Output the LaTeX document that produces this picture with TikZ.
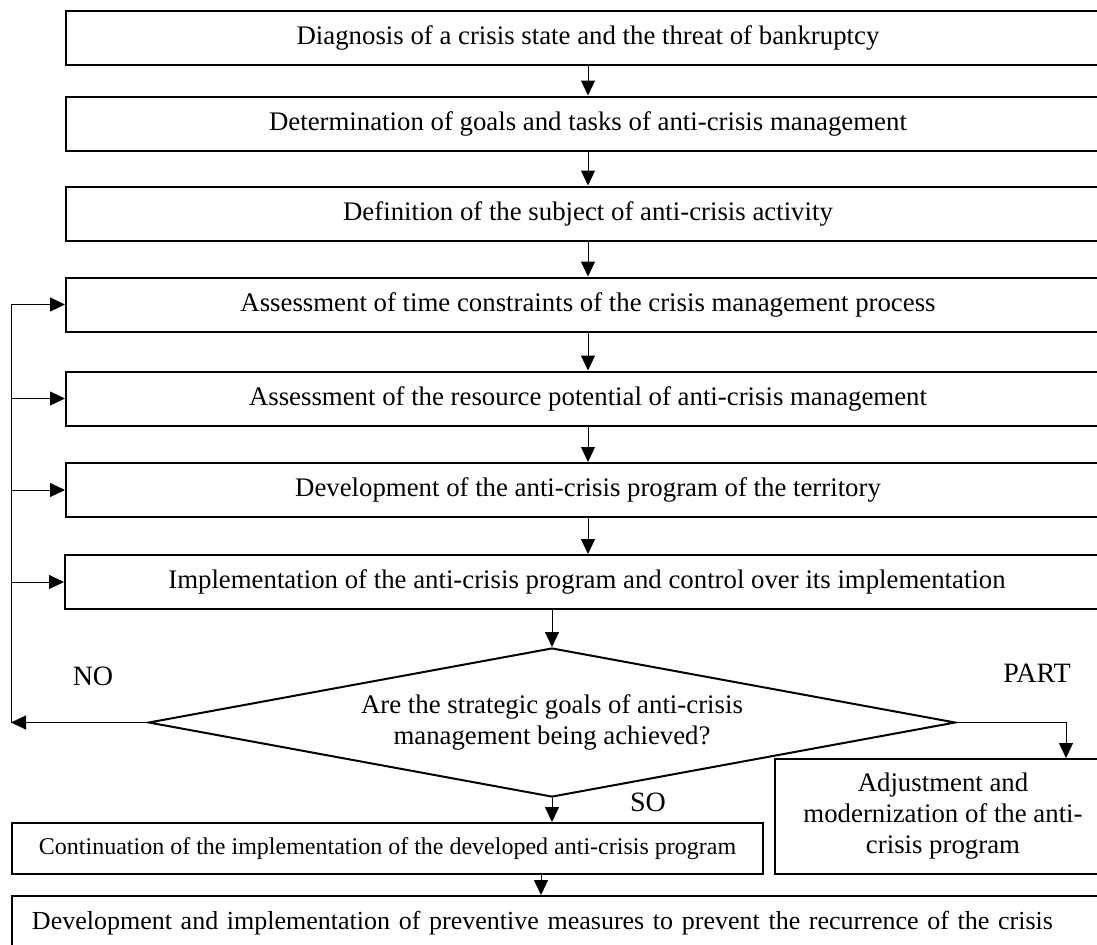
\documentclass[tikz,border=0pt]{standalone}
\usepackage{fontspec}
\setmainfont{Liberation Serif}
\usetikzlibrary{shapes.geometric,arrows.meta}

\begin{document}
\begin{tikzpicture}[x=0.5pt,y=-0.5pt,
    font=\fontsize{13.4pt}{15.5pt}\selectfont,
    box/.style={draw,line width=1pt,minimum width=522pt,minimum height=27pt,inner sep=0pt},
    pfeil/.style={line width=0.5pt,-{Triangle[length=7.5pt,width=7pt]}},
    antwort/.style={font=\fontsize{14pt}{16pt}\selectfont}]
    \pgfmathsetmacro{\boxCenter}{588}
    \pgfmathsetmacro{\feedbackX}{11}
    \pgfmathsetmacro{\checkX}{552}
    \pgfmathsetmacro{\checkY}{722.5}

    \useasboundingbox (0,0) rectangle (1097,944);
    \clip (0,0) rectangle (1097,944);

    % Kaesten
    \node[box] (diag) at (\boxCenter,38) {Diagnosis of a crisis state and the threat of bankruptcy};
    \node[box] (goals) at (\boxCenter,123.5) {Determination of goals and tasks of anti-crisis management};
    \node[box] (subject) at (\boxCenter,213.5) {Definition of the subject of anti-crisis activity};
    \node[box] (time) at (\boxCenter,304.5) {Assessment of time constraints of the crisis management process};
    \node[box] (resource) at (\boxCenter,398.5) {Assessment of the resource potential of anti-crisis management};
    \node[box] (program) at (\boxCenter,490) {Development of the anti-crisis program of the territory};
    \node[box] (implement) at (\boxCenter-1,582) {Implementation of the anti-crisis program and control over its implementation};

    % Raute
    \node[draw,diamond,line width=1pt,aspect=5.4,minimum width=403.5pt,minimum height=74.5pt,inner sep=0pt,align=center]
      (check) at (\checkX,\checkY) {Are the strategic goals of anti-crisis\\management being achieved?};

    % Ergebnis
    \node[box,minimum width=375.5pt,minimum height=25.5pt,font=\fontsize{12pt}{14pt}\selectfont]
      (continue) at (387.5,848.5) {Continuation of the implementation of the developed anti-crisis program};
    \node[box,minimum width=168pt,minimum height=57.5pt,align=center]
      (adjust) at (943,816.5) {Adjustment and\\modernization of the anti-\\crisis program};
    \node[box,minimum height=27pt,inner xsep=10pt,text width=529pt,align=left,font=\fontsize{13pt}{15pt}\selectfont]
      (prevent) at (561,923) {Development and implementation of preventive measures to prevent the recurrence of the crisis};

    % Antworten
    \node[antwort] (no) at (93,676) {NO};
    \node[antwort] (part) at (1037,673) {PART};
    \node[antwort] (so) at (648,802) {SO};

    % Hauptfluss
    \draw[pfeil] (diag) -- (goals);
    \draw[pfeil] (goals) -- (subject);
    \draw[pfeil] (subject) -- (time);
    \draw[pfeil] (time) -- (resource);
    \draw[pfeil] (resource) -- (program);
    \draw[pfeil] (program.south) -- (program.south |- implement.north);
    \draw[pfeil] (implement.south -| check.north) -- (check.north);

    % Rueckfuehrung
    \coordinate (noCorner) at (\feedbackX,\checkY);
    \draw[pfeil] (check.west) -- (noCorner);
    \draw[line width=0.5pt] (noCorner) -- (noCorner |- time.west);
    \foreach \n in {time,resource,program,implement}
      \draw[pfeil] (noCorner |- \n.west) -- (\n.west);

    % Teilweise
    \coordinate (partCorner) at (1066,\checkY);
    \draw[pfeil] (check.east) -- (partCorner) -- (partCorner |- adjust.north);

    % Ja
    \draw[pfeil] (check.south) -- (check.south |- continue.north);
    \coordinate (downX) at (541,0);
    \draw[pfeil] (continue.south -| downX) -- (prevent.north -| downX);
  \end{tikzpicture}
\end{document}
